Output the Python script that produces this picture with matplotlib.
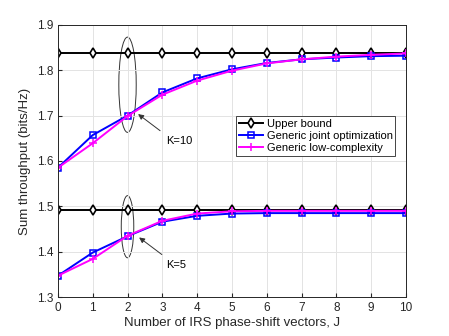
import numpy as np
import matplotlib.pyplot as plt
from matplotlib.patches import Ellipse

plt.rcParams['font.family'] = ['Liberation Sans', 'DejaVu Sans']

# number of IRS phase-shift vectors
J = np.arange(0, 11)

# K=10
upper_k10 = [1.838] * 11
joint_k10 = [1.585, 1.657, 1.700, 1.751, 1.782, 1.802, 1.816, 1.824, 1.828, 1.831, 1.832]
lowc_k10 = [1.585, 1.639, 1.699, 1.746, 1.777, 1.799, 1.815, 1.824, 1.830, 1.834, 1.837]

# K=5
upper_k5 = [1.491] * 11
joint_k5 = [1.347, 1.398, 1.434, 1.466, 1.479, 1.484, 1.485, 1.485, 1.485, 1.485, 1.485]
lowc_k5 = [1.347, 1.384, 1.435, 1.468, 1.484, 1.489, 1.490, 1.490, 1.490, 1.490, 1.490]

fig = plt.figure(figsize=(4.49, 3.36), dpi=100)
ax = fig.add_axes([0.129, 0.116, 0.775, 0.81])

ub = dict(color='black', marker='d', mfc='white', ms=5, lw=1.4, mew=1.2)
jo = dict(color='blue', marker='s', mfc='none', ms=4.5, lw=1.4, mew=1.1)
lc = dict(color='magenta', marker='+', ms=6, lw=1.4, mew=1.1)

ax.plot(J, upper_k10, label='Upper bound', **ub)
ax.plot(J, joint_k10, label='Generic joint optimization', **jo)
ax.plot(J, lowc_k10, label='Generic low-complexity', **lc)
ax.plot(J, upper_k5, **ub)
ax.plot(J, joint_k5, **jo)
ax.plot(J, lowc_k5, **lc)

# ellipses marking the two groups
ax.add_patch(Ellipse((2.0, 1.768), 0.5, 0.21, fill=False, ec='#333333', lw=0.7))
ax.add_patch(Ellipse((2.0, 1.455), 0.36, 0.137, fill=False, ec='#333333', lw=0.7))

arr = dict(arrowstyle='-|>', color='#333333', lw=0.7, mutation_scale=8)
ax.annotate('', xy=(2.24, 1.707), xytext=(3.0, 1.663), arrowprops=arr)
ax.text(3.1, 1.643, 'K=10', fontsize=8, va='center', ha='left')
ax.annotate('', xy=(2.27, 1.435), xytext=(3.05, 1.39), arrowprops=arr)
ax.text(3.12, 1.371, 'K=5', fontsize=8, va='center', ha='left')

ax.set_xlim(0, 10)
ax.set_ylim(1.3, 1.9)
ax.set_xticks(J)
ax.set_yticks(np.arange(1.3, 1.91, 0.1))
ax.grid(True, color='#e3e3e3', lw=0.7)
ax.tick_params(direction='in', labelsize=8.5, colors='#262626', length=3)
for s in ax.spines.values():
    s.set_color('#262626')
    s.set_linewidth(0.7)

ax.set_xlabel('Number of IRS phase-shift vectors, J', fontsize=9.5, color='#262626', labelpad=2)
ax.set_ylabel('Sum throughput (bits/Hz)', fontsize=9.5, color='#262626', labelpad=4)

leg = ax.legend(loc='upper right', bbox_to_anchor=(0.97, 0.665), fontsize=8,
                fancybox=False, edgecolor='#262626', framealpha=1,
                borderpad=0.25, labelspacing=0.2, handlelength=2.2, handletextpad=0.3,
                borderaxespad=0)
leg.get_frame().set_linewidth(0.6)

fig.savefig('out.png', dpi=100)
